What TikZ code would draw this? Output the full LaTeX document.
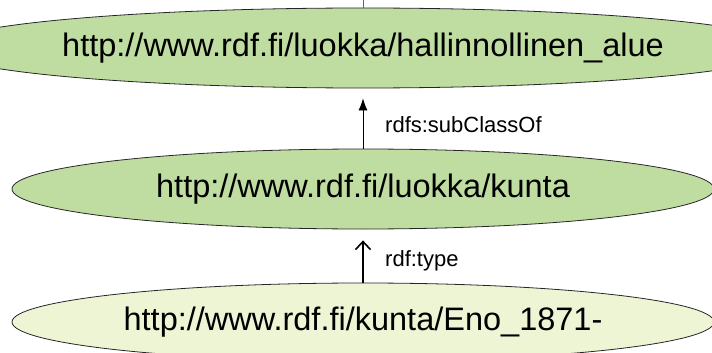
\documentclass[tikz,border=0pt]{standalone}
\usepackage{fontspec}
\setmainfont{Liberation Sans}
\usetikzlibrary{shapes.geometric,arrows.meta}

\definecolor{classfill}{RGB}{191,221,161}
\definecolor{instfill}{RGB}{237,245,213}

\begin{document}
\begin{tikzpicture}[x=1pt,y=-1pt,
  resource/.style={ellipse,draw=black!85,line width=0.8pt,inner sep=0pt,
    minimum width=702pt,minimum height=80pt,font=\fontsize{32.5}{38}\selectfont},
  proplabel/.style={anchor=west,inner sep=0pt,font=\fontsize{22}{26}\selectfont}]
\useasboundingbox (0,0) rectangle (712,353);
% classes and the instance
\node[resource,fill=classfill] (alue) at (363,48) {http://www.rdf.fi/luokka/hallinnollinen\_alue};
\node[resource,fill=classfill] (kunta) at (363,189) {http://www.rdf.fi/luokka/kunta};
\node[resource,fill=instfill,minimum height=78pt] (eno) at (363,322) {http://www.rdf.fi/kunta/Eno\_1871-};
\coordinate (cut) at (363,0);
\draw [black!60,line width=0.5pt] (alue.north) -- (cut);
% properties
\draw [-{Latex[length=12pt,width=9pt]},line width=0.8pt,shorten >=10pt] (kunta.north) -- (alue.south);
\node[proplabel] (subclass) at (385,125) {rdfs:subClassOf};
\draw [-{Straight Barb[length=8pt,width=15pt]},line width=1.6pt,shorten >=11pt] (eno.north) -- (kunta.south);
\node[proplabel] (type) at (385,261) {rdf:type};
\end{tikzpicture}
\end{document}
